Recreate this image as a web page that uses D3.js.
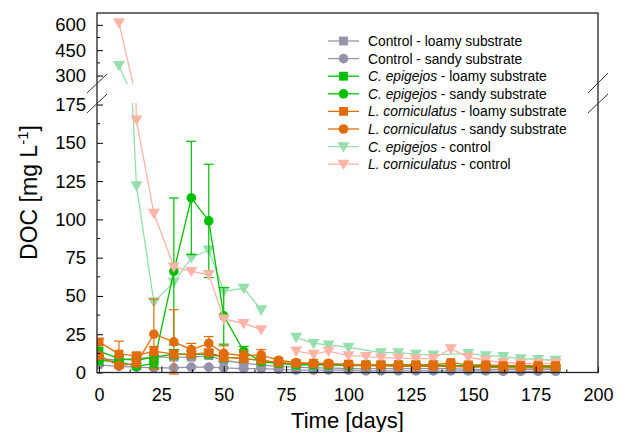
<!DOCTYPE html>
<html>
<head>
<meta charset="utf-8">
<script src="https://cdn.jsdelivr.net/npm/d3@7"></script>
<style>
  body { margin: 0; background: #fff; }
  svg text { font-family: Arial, "Liberation Sans", sans-serif; fill: #000; }
</style>
</head>
<body>
<svg id="chart" width="624" height="432"></svg>
<script>
// sampling days
const days = [0, 8, 15, 22, 30, 37, 44, 50, 58, 65, 72, 79, 86, 92, 100, 107, 113, 120, 127, 134, 141, 148, 155, 162, 169, 176, 183];
const daysCepCtrl = [8, 15, 22, 30, 37, 44, 50, 58, 65, 72, 79, 86, 92, 100, 113, 120, 127, 134, 148, 155, 162, 169, 176, 183];
const daysLcCtrl = [8, 15, 22, 30, 37, 44, 50, 58, 65, 72, 79, 86, 92, 100, 107, 113, 120, 127, 134, 141, 148, 155, 162, 169, 176, 183];

// DOC values [mg/L]  (null = not measured)
const ctrlLoamy  = [9, 8, 9, 10, 10, 10, 11, 8, 6, 5, 4, 3.5, 3, 3, 2.5, 2.5, 2.5, 2.5, 2.5, 2.5, 2.5, 2, 2, 2, 2, 2, 2];
const ctrlSandy  = [5, 4, 3.5, 3, 3, 3.5, 3.5, 3, 2.5, 2.5, 2, 1.5, 1.5, 1.5, 1.5, 1, 1, 1, 1, 1, 1, 1, 1, 0.8, 0.8, 0.8, 0.8];
const cepLoamy   = [14, 9, 8, 10, 12, 12, 12, 10, 9, 8, 6, 5.5, 5.5, 5, 5, 5, 5, 5, 5, 5, 4.5, 4.5, 4.5, 4, 4, 4, 4];
const cepSandy   = [8, 7, 4, 6, 66, 114, 99, 37, 14, 7, 6, 5, 5, 5, 4.5, 4.5, 4.5, 4.5, 4.5, 4.5, 4.5, 4, 4, 4, 3.5, 3.5, 3.5];
const lcLoamy    = [20, 12, 11, 14, 12, 12, 13, 10, 9, 8, 6.5, 6, 6, 5.5, 5.5, 5, 5, 5, 5, 5, 6.5, 5, 5, 4.5, 4.5, 4.5, 4.5];
const lcSandy    = [11, 4.5, 6, 25, 20, 15, 19, 12.5, 11, 11.5, 8, 6.5, 6, 6, 5, 4.5, 4.5, 4, 4, 4, 4, 3.5, 3.5, 3, 3, 3, 3];
const cepControl = [360, 122, 46, 59, 75, 80, 53, 55, 41, null, 23, 19, 18, 16.5, 13, 13, 12, 11.5, 12.5, 11, 10.5, 9, 8.5, 8];
const lcControl  = [612, 165, 104, 69, 66, 64, 35, 32, 28, null, 14, 12, 14, 11, 10.5, 9.5, 9.5, 9, 9, 15.5, 10, 8, 6.5, 6, 6, 6];

// standard deviations
const errCtrlLoamy = [1.5, 1.5, 1.5, 1.5, 1.5, 1.5, 1.5, 1, 1, 1, 1, 0.5, 0.5, 0.5, 0.5, 0.5, 0.5, 0.5, 0.5, 0.5, 0.5, 0.5, 0.5, 0.5, 0.5, 0.5, 0.5];
const errCtrlSandy = [1, 1, 0.5, 0.5, 0.5, 0.5, 0.5, 0.5, 0.5, 0.5, 0.5, 0.5, 0.5, 0.5, 0.5, 0.5, 0.5, 0.5, 0.5, 0.5, 0.5, 0.5, 0.5, 0.5, 0.5, 0.5, 0.5];
const errCepLoamy  = [4, 2, 2, 3, 3, 2, 2, 3, 2, 2, 1, 1, 1, 1, 1, 1, 1, 1, 1, 1, 1, 1, 1, 1, 1, 1, 1];
const errCepSandy  = [3, 3, 2, 3, 48, 37, 37, 18.5, 3, 2, 1, 1, 1, 1, 1, 1, 1, 1, 1, 1, 1, 1, 1, 1, 1, 1, 1];
const errLcLoamy   = [2, 8.5, 2, 3, 2, 2, 2, 2, 2, 2, 1, 1, 1, 1, 1, 1, 1, 1, 1, 1, 1, 1, 1, 1, 1, 1, 1];
const errLcSandy   = [2, 1.5, 2, 23, 21, 4, 4.5, 5, 3.5, 3.5, 1.5, 1, 1, 1, 1, 1, 1, 1, 1, 1, 1, 1, 1, 1, 1, 1, 1];

const xTicks = [0, 25, 50, 75, 100, 125, 150, 175, 200];
const yTicksLow = [0, 25, 50, 75, 100, 125, 150, 175];
const yTicksHigh = [300, 450, 600];

// colours
const greyCol = "#9393ab";
const greenCol = "#00bf00";
const orangeCol = "#e36c0a";
const lightGreenCol = "#95dfac";
const pinkCol = "#ffb4a6";

// series in drawing order
const series = [
    { label: ["", "C. epigejos", " - control"], x: daysCepCtrl, y: cepControl, err: null, color: lightGreenCol, shape: "tri" },
    { label: ["Control - loamy substrate"], x: days, y: ctrlLoamy, err: errCtrlLoamy, color: greyCol, shape: "sq" },
    { label: ["Control - sandy substrate"], x: days, y: ctrlSandy, err: errCtrlSandy, color: greyCol, shape: "ci" },
    { label: ["", "C. epigejos", " - loamy substrate"], x: days, y: cepLoamy, err: errCepLoamy, color: greenCol, shape: "sq" },
    { label: ["", "C. epigejos", " - sandy substrate"], x: days, y: cepSandy, err: errCepSandy, color: greenCol, shape: "ci" },
    { label: ["", "L. corniculatus", " - control"], x: daysLcCtrl, y: lcControl, err: null, color: pinkCol, shape: "tri" },
    { label: ["", "L. corniculatus", " - loamy substrate"], x: days, y: lcLoamy, err: errLcLoamy, color: orangeCol, shape: "sq" },
    { label: ["", "L. corniculatus", " - sandy substrate"], x: days, y: lcSandy, err: errLcSandy, color: orangeCol, shape: "ci" }
];
// legend order
const legendOrder = [1, 2, 3, 4, 6, 7, 0, 5];

// dimensions
const plotLeft = 97, plotRight = 598, plotBottom = 372.5, plotTop = 13;
const x = d3.scaleLinear().domain([-0.8, 200]).range([plotLeft, plotRight]);
const yLo = d3.scaleLinear().domain([0, 176]).range([plotBottom, 103]);
const yHi = d3.scaleLinear().domain([250, 670]).range([84, plotTop]);

const svg = d3.select("#chart");

const defs = svg.append("defs");
defs.append("clipPath").attr("id", "clipHi")
    .append("rect").attr("x", plotLeft).attr("y", 0).attr("width", plotRight - plotLeft + 10).attr("height", 84);
defs.append("clipPath").attr("id", "clipLo")
    .append("rect").attr("x", plotLeft).attr("y", 103).attr("width", plotRight - plotLeft + 10).attr("height", 432 - 103);

function symbolPath(shape) {
    if (shape === "sq") return d3.symbol(d3.symbolSquare, 78)();
    if (shape === "ci") return d3.symbol(d3.symbolCircle, 72)();
    return d3.symbol(d3.symbolTriangle, 62)();
}
function symbolTransform(shape, px, py) {
    if (shape === "tri") return "translate(" + px + "," + (py - 1) + ") rotate(180)";
    return "translate(" + px + "," + py + ")";
}

function drawSeries(g, s, y) {
    const pts = s.x.map((d, i) => ({ t: d, v: s.y[i], e: s.err ? s.err[i] : 0 }));
    const valid = pts.filter(d => d.v !== null);
    const grp = g.append("g");

    grp.append("path")
        .datum(pts)
        .attr("fill", "none")
        .attr("stroke", s.color)
        .attr("stroke-width", 1.3)
        .attr("d", d3.line().defined(d => d.v !== null).x(d => x(d.t)).y(d => y(d.v)));

    if (s.err) {
        const bars = grp.selectAll(".err").data(valid).enter().append("g")
            .attr("stroke", s.color).attr("stroke-width", 1.2);
        bars.append("line")
            .attr("x1", d => x(d.t)).attr("x2", d => x(d.t))
            .attr("y1", d => y(d.v - d.e)).attr("y2", d => y(d.v + d.e));
        bars.append("line")
            .attr("x1", d => x(d.t) - 5).attr("x2", d => x(d.t) + 5)
            .attr("y1", d => y(d.v + d.e)).attr("y2", d => y(d.v + d.e));
        bars.append("line")
            .attr("x1", d => x(d.t) - 5).attr("x2", d => x(d.t) + 5)
            .attr("y1", d => y(d.v - d.e)).attr("y2", d => y(d.v - d.e));
    }

    grp.selectAll(".mk").data(valid).enter().append("path")
        .attr("d", symbolPath(s.shape))
        .attr("transform", d => symbolTransform(s.shape, x(d.t), y(d.v)))
        .attr("fill", s.color);
}

const gHi = svg.append("g").attr("clip-path", "url(#clipHi)");
const gLo = svg.append("g").attr("clip-path", "url(#clipLo)");
series.forEach(s => {
    drawSeries(gHi, s, yHi);
    drawSeries(gLo, s, yLo);
});

// x axis
const xAxis = svg.append("g")
    .attr("transform", "translate(0," + plotBottom + ")")
    .call(d3.axisBottom(x).tickValues(xTicks).tickSize(-6).tickPadding(15.5).tickSizeOuter(0));
xAxis.selectAll("text").style("font-size", "18px");
// minor x ticks
svg.append("g").selectAll("line")
    .data(xTicks.slice(0, -1).map(d => d + 12.5))
    .enter().append("line")
    .attr("x1", d => x(d)).attr("x2", d => x(d))
    .attr("y1", plotBottom).attr("y2", plotBottom - 3)
    .attr("stroke", "#000");

// y axes (lower and upper)
const yAxisLo = svg.append("g")
    .attr("transform", "translate(" + plotLeft + ",0)")
    .call(d3.axisLeft(yLo).tickValues(yTicksLow).tickSize(-6).tickPadding(11).tickSizeOuter(0));
yAxisLo.selectAll("text").style("font-size", "18.5px");
const yAxisHi = svg.append("g")
    .attr("transform", "translate(" + plotLeft + ",0)")
    .call(d3.axisLeft(yHi).tickValues(yTicksHigh).tickSize(-6).tickPadding(11).tickSizeOuter(0));
yAxisHi.selectAll("text").style("font-size", "18.5px");
// minor y ticks
const minorLo = yTicksLow.slice(0, -1).map(d => d + 12.5);
const minorHi = [375, 525];
svg.append("g").selectAll("line")
    .data(minorLo.map(d => yLo(d)).concat(minorHi.map(d => yHi(d))))
    .enter().append("line")
    .attr("x1", plotLeft).attr("x2", plotLeft + 3)
    .attr("y1", d => d).attr("y2", d => d)
    .attr("stroke", "#000");

svg.selectAll(".domain").remove();

// frame
svg.append("rect")
    .attr("x", plotLeft).attr("y", plotTop)
    .attr("width", plotRight - plotLeft).attr("height", plotBottom - plotTop)
    .attr("fill", "none").attr("stroke", "#222").attr("stroke-width", 1.3);

// axis break marks
const breaks = [[87, 93, 107, 74], [87, 113, 107, 94], [588, 93, 608, 73], [588, 113, 608, 94]];
svg.append("g").selectAll("line").data(breaks).enter().append("line")
    .attr("x1", d => d[0]).attr("y1", d => d[1])
    .attr("x2", d => d[2]).attr("y2", d => d[3])
    .attr("stroke", "#333").attr("stroke-width", 1);

// axis titles
svg.append("text")
    .attr("x", (plotLeft + plotRight) / 2).attr("y", 428)
    .attr("text-anchor", "middle")
    .style("font-size", "22px")
    .text("Time [days]");

const yTitle = svg.append("text")
    .attr("transform", "translate(36.5,192.5) rotate(-90)")
    .attr("text-anchor", "middle")
    .style("font-size", "23px");
yTitle.append("tspan").text("DOC [mg L");
yTitle.append("tspan").attr("dy", -9).style("font-size", "15px").text("-1");
yTitle.append("tspan").attr("dy", 9).text("]");

// legend
const legend = svg.append("g");
legendOrder.forEach((idx, row) => {
    const s = series[idx];
    const ly = 41 + row * 17.6;
    const item = legend.append("g");
    item.append("line")
        .attr("x1", 328).attr("x2", 359).attr("y1", ly).attr("y2", ly)
        .attr("stroke", s.color).attr("stroke-width", 1.3);
    item.append("path")
        .attr("d", symbolPath(s.shape))
        .attr("transform", symbolTransform(s.shape, 343.5, ly))
        .attr("fill", s.color);
    const txt = item.append("text")
        .attr("x", 368).attr("y", ly + 5)
        .style("font-size", "13.8px");
    if (s.label.length === 1) {
        txt.text(s.label[0]);
    } else {
        txt.append("tspan").style("font-style", "italic").text(s.label[1]);
        txt.append("tspan").text(s.label[2]);
    }
});
</script>
</body>
</html>
